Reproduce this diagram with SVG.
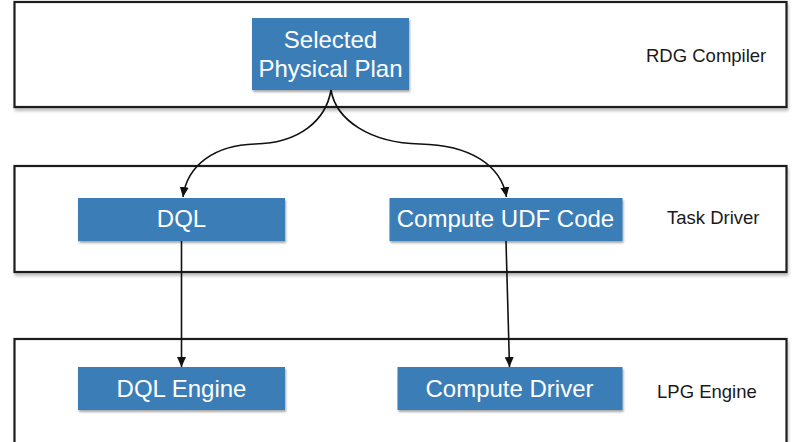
<svg xmlns="http://www.w3.org/2000/svg" width="793" height="442" viewBox="0 0 793 442">
<defs>
<style>
.frame{fill:#fff;stroke:#1e1e1e;stroke-width:2.2;filter:url(#fsh)}
.box{fill:#3b7eb7;filter:url(#bsh)}
.bt{font-family:"Liberation Sans",Arial,sans-serif;font-size:24px;fill:#fff;text-anchor:middle}
.lbl{font-family:"Liberation Sans",Arial,sans-serif;font-size:18.5px;fill:#1a1a1a}
.con{fill:none;stroke:#111;stroke-width:1.6}
</style>
<filter id="fsh" x="-5%" y="-10%" width="110%" height="130%">
<feGaussianBlur in="SourceAlpha" stdDeviation="1.5"/>
<feOffset dx="1" dy="3" result="o"/>
<feComponentTransfer><feFuncA type="linear" slope="0.25"/></feComponentTransfer>
<feMerge><feMergeNode/><feMergeNode in="SourceGraphic"/></feMerge>
</filter>
<filter id="bsh" x="-10%" y="-20%" width="120%" height="150%">
<feGaussianBlur in="SourceAlpha" stdDeviation="1.2"/>
<feOffset dx="0.5" dy="2" result="o"/>
<feComponentTransfer><feFuncA type="linear" slope="0.35"/></feComponentTransfer>
<feMerge><feMergeNode/><feMergeNode in="SourceGraphic"/></feMerge>
</filter>
<marker id="ah" viewBox="0 0 10 10" refX="10" refY="5" markerWidth="10" markerHeight="10" markerUnits="userSpaceOnUse" orient="auto">
<path d="M0,0.5 L10,5 L0,9.5 z" fill="#111"/>
</marker>
</defs>

<g id="frame-rdg">
<rect class="frame" x="14.5" y="2" width="772" height="105"/>
<text class="lbl" x="646" y="62">RDG Compiler</text>
</g>
<g id="frame-task">
<rect class="frame" x="14.5" y="166" width="772" height="106"/>
<text class="lbl" x="667" y="224">Task Driver</text>
</g>
<g id="frame-lpg">
<rect class="frame" x="14.5" y="339" width="772" height="120"/>
<text class="lbl" x="657" y="398">LPG Engine</text>
</g>

<g id="node-plan">
<rect class="box" x="252" y="18" width="157" height="72"/>
<text class="bt" x="330.5" y="48">Selected</text>
<text class="bt" x="330.5" y="77">Physical Plan</text>
</g>
<g id="node-dql">
<rect class="box" x="78" y="198" width="207" height="43"/>
<text class="bt" x="181.5" y="227">DQL</text>
</g>
<g id="node-udf">
<rect class="box" x="389.5" y="198" width="233" height="43"/>
<text class="bt" x="505.5" y="227">Compute UDF Code</text>
</g>
<g id="node-dqlengine">
<rect class="box" x="78" y="367" width="207" height="43"/>
<text class="bt" x="181.5" y="397">DQL Engine</text>
</g>
<g id="node-computedriver">
<rect class="box" x="397.5" y="367" width="225" height="43"/>
<text class="bt" x="509.5" y="397">Compute Driver</text>
</g>

<g id="connectors">
<path class="con" marker-end="url(#ah)" d="M331,90 C326,120 300,143 255,144 C215,145 187,165 183,197"/>
<path class="con" marker-end="url(#ah)" d="M331,90 C336,120 370,143 420,144 C470,145 501,165 506.5,197"/>
<path class="con" marker-end="url(#ah)" d="M181.5,241 L181.5,367"/>
<path class="con" marker-end="url(#ah)" d="M506,241 L509.5,367"/>
</g>
</svg>
